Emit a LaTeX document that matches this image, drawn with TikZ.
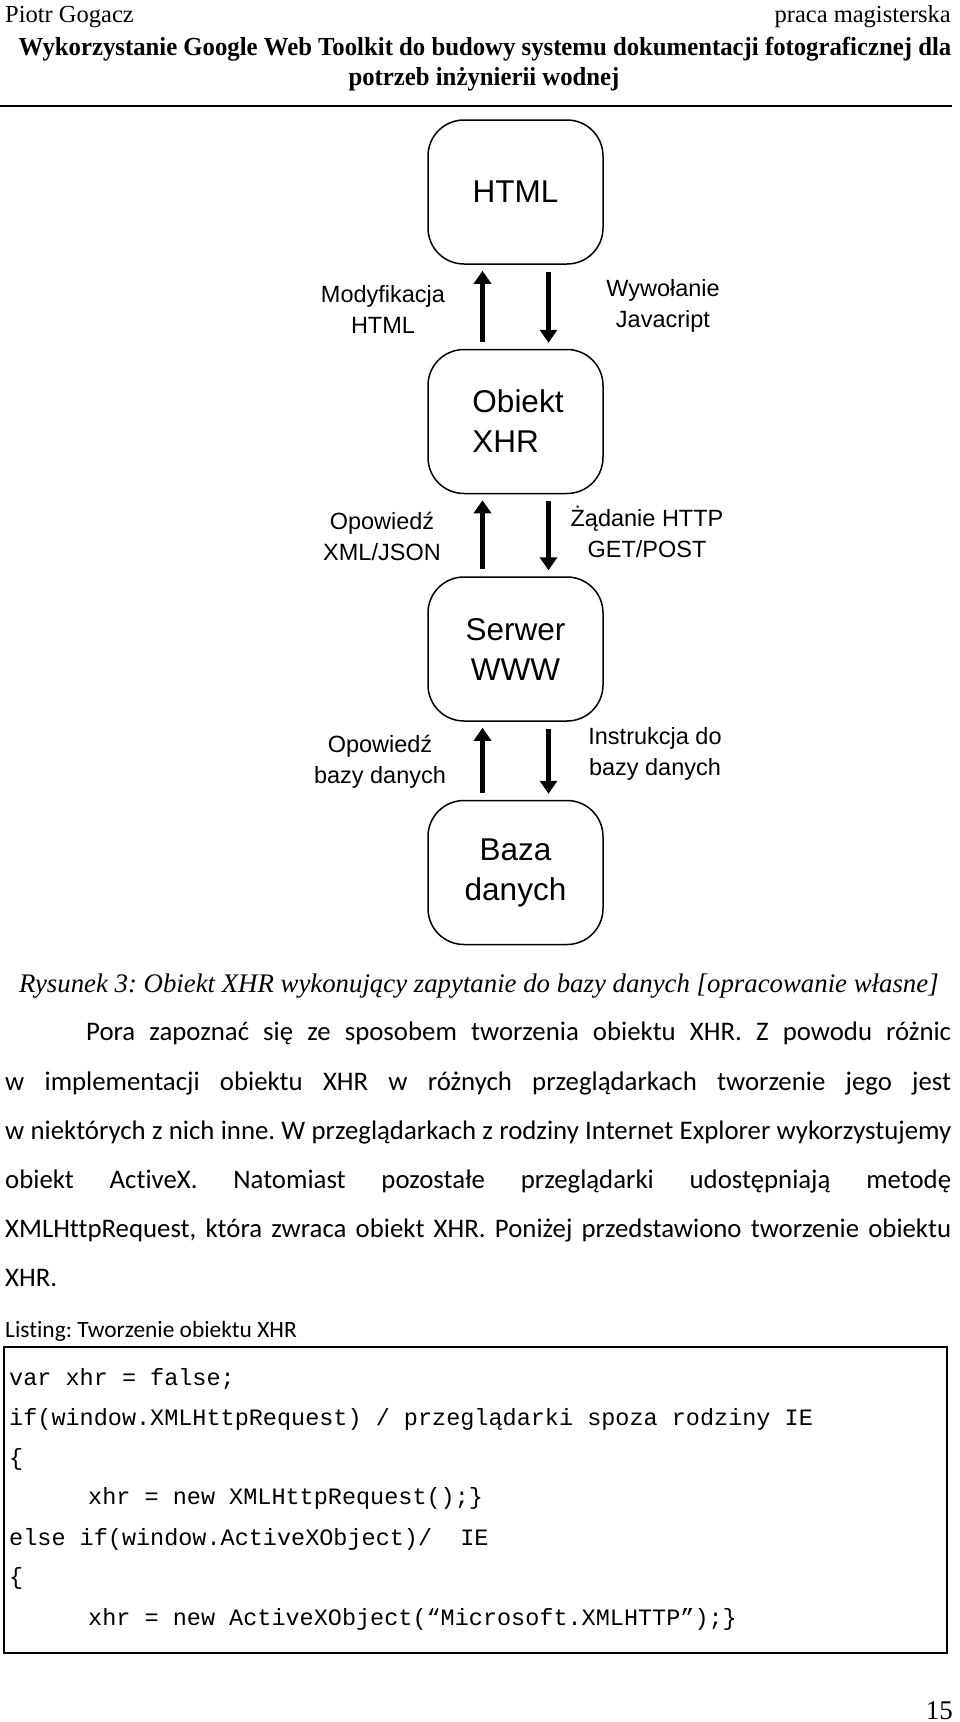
\documentclass[tikz,border=0pt]{standalone}
\usepackage{fontspec}
\setmainfont{Liberation Serif}
\newfontfamily\tytulfont{Liberation Serif}[FakeStretch=0.952]
\newfontfamily\arialfont{Liberation Sans}
\newfontfamily\calibrifont{Carlito}[Ligatures=NoCommon]
\newfontfamily\courierfont{Liberation Mono}
\usetikzlibrary{arrows.meta,positioning}
\frenchspacing

\tikzset{
  blok/.style={draw, line width=1.5pt, rounded corners=36pt,
    minimum width=175pt, minimum height=144pt, inner sep=0pt,
    font=\arialfont\fontsize{31.5}{40}\selectfont, align=center},
  opis/.style={font=\arialfont\fontsize{23.5}{31}\selectfont, align=center, inner sep=0pt},
  strz/.style={line width=4.5pt, -{Triangle[width=17pt,length=13pt]},
    shorten <=7pt, shorten >=6pt},
  naglowek/.style={font=\fontsize{24.5}{28}\selectfont, inner sep=0pt},
  tytul/.style={font=\tytulfont\bfseries\fontsize{26}{30}\selectfont, anchor=base, inner sep=0pt},
  tekst/.style={font=\calibrifont\fontsize{26.8}{49}\selectfont, anchor=base west, inner sep=0pt},
  kod/.style={font=\courierfont\fontsize{23.5}{40}\selectfont, anchor=base west, inner sep=0pt},
}
\newcommand{\wiersz}[2]{\makebox[#1][s]{#2}}

\begin{document}
\begin{tikzpicture}[x=1pt, y=-1pt]
	\useasboundingbox (0,0) rectangle (960,1722);
	
	% naglowek strony
	\node[naglowek, anchor=base west] (autor) at (5,22) {Piotr Gogacz};
	\node[naglowek, anchor=base east] (praca) at (951,22) {praca magisterska};
	\node[tytul] (tytul1) at (485,55) {Wykorzystanie Google Web Toolkit do budowy systemu dokumentacji fotograficznej dla};
	\node[tytul] (tytul2) at (484,85) {potrzeb inżynierii wodnej};
	\draw[line width=2pt] (0,105.5) -- (952,105.5);
	
	% schemat
	\node[blok] (html) at (515.5,192) {HTML};
	\node[blok, below=84pt of html, align=left] (xhr) {\hspace*{5pt}Obiekt\\\hspace*{5pt}XHR};
	\node[blok, below=82pt of xhr] (serwer) {Serwer\\WWW};
	\node[blok, below=78pt of serwer] (baza) {Baza\\danych};
	
	\draw[strz] ([xshift=-33pt]xhr.north) -- ([xshift=-33pt]html.south);
	\draw[strz] ([xshift=33pt]html.south) -- ([xshift=33pt]xhr.north);
	\draw[strz] ([xshift=-33pt]serwer.north) -- ([xshift=-33pt]xhr.south);
	\draw[strz] ([xshift=33pt]xhr.south) -- ([xshift=33pt]serwer.north);
	\draw[strz] ([xshift=-33pt]baza.north) -- ([xshift=-33pt]serwer.south);
	\draw[strz] ([xshift=33pt]serwer.south) -- ([xshift=33pt]baza.north);
	
	\node[opis] (modyf) at (383,309) {Modyfikacja\\HTML};
	\node[opis] (wywol) at (663,306) {Wywołanie\\Javacript};
	\node[opis] (odpxml) at (382,536) {Opowiedź\\XML/JSON};
	\node[opis] (zadanie) at (647,532) {Żądanie HTTP\\GET/POST};
	\node[opis] (odpbaz) at (380,762) {Opowiedź\\bazy danych};
	\node[opis] (instr) at (655,754) {Instrukcja do\\bazy danych};
	
	% podpis i tekst
	\node[font=\itshape\fontsize{26.8}{30}\selectfont, anchor=base west, inner sep=0pt] (podpis) at (19,992)
		{Rysunek 3: Obiekt XHR wykonujący zapytanie do bazy danych [opracowanie własne]};
	\node[tekst] (w1) at (86,1040) {\wiersz{865pt}{Pora zapoznać się ze sposobem tworzenia obiektu XHR. Z powodu różnic}};
	\node[tekst] (w2) at (5,1090) {\wiersz{946pt}{w implementacji obiektu XHR w różnych przeglądarkach tworzenie jego jest}};
	\node[tekst] (w3) at (5,1139) {\wiersz{946pt}{w niektórych z nich inne. W przeglądarkach z rodziny Internet Explorer wykorzystujemy}};
	\node[tekst] (w4) at (5,1188) {\wiersz{946pt}{obiekt ActiveX. Natomiast pozostałe przeglądarki udostępniają metodę}};
	\node[tekst] (w5) at (5,1237) {\wiersz{946pt}{XMLHttpRequest, która zwraca obiekt XHR. Poniżej przedstawiono tworzenie obiektu}};
	\node[tekst] (w6) at (5,1286) {XHR.};
	
	% listing
	\node[tekst, font=\calibrifont\fontsize{23.4}{28}\selectfont] (listing) at (5,1337) {Listing: Tworzenie obiektu XHR};
	\draw[line width=2.5pt] (4,1347) rectangle (947,1653);
	\node[kod] (k1) at (9,1385) {var xhr = false;};
	\node[kod] (k2) at (9,1425) {if(window.XMLHttpRequest) / przeglądarki spoza rodziny IE};
	\node[kod] (k3) at (9,1465) {\{};
	\node[kod] (k4) at (88,1504) {xhr = new XMLHttpRequest();\}};
	\node[kod] (k5) at (9,1545) {else if(window.ActiveXObject)/\ \ IE};
	\node[kod] (k6) at (9,1584) {\{};
	\node[kod] (k7) at (88,1625) {xhr = new ActiveXObject(“Microsoft.XMLHTTP”);\}};
	
	\node[naglowek, anchor=base east, font=\fontsize{27}{30}\selectfont] (strona) at (953,1719) {15};
\end{tikzpicture}
\end{document}
